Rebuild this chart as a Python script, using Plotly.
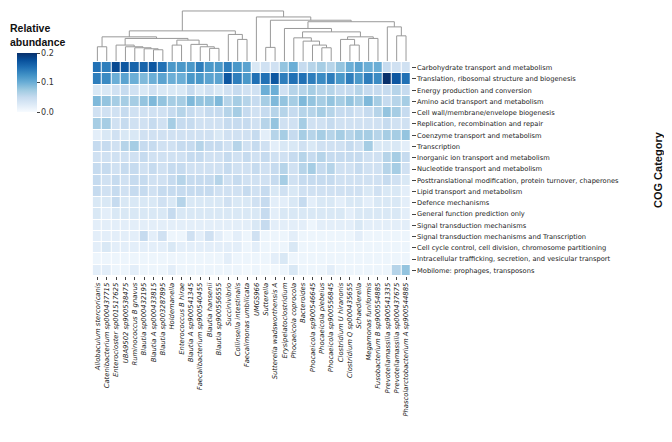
import plotly.graph_objects as go

# the page body has an 8px margin, so the figure is placed 8px in from the window corner
PAGE_MARGIN = 8
W, H = 656, 426

species = [
    "Allobaculum stercoricanis", "Catenibacterium sp000437715", "Enterocloster sp001517625",
    "UBA9502 sp900538475", "Ruminococcus B gnavus", "Blautia sp000432195",
    "Blautia A sp000433815", "Blautia sp003287895", "Holdemanella",
    "Enterococcus B hirae", "Blautia A sp900541345", "Faecalibacterium sp900540455",
    "Blautia hansenii", "Blautia sp900556555", "Succinivibrio",
    "Collinsella intestinalis", "Faecalimonas umbilicata", "UMGS966",
    "Sutterella", "Sutterella wadsworthensis A", "Erysipelatoclostridium",
    "Phocaeicola coprocola", "Bacteroides", "Phocaeicola sp900546645",
    "Phocaeicola plebeius", "Phocaeicola sp900556845", "Clostridium U hiranonis",
    "Clostridium Q sp000435655", "Schaedlerella", "Megamonas funiformis",
    "Fusobacterium B sp900554885", "Prevotellamassilia sp900541335",
    "Prevotellamassilia sp000437675", "Phascolarctobacterium A sp900544885",
]

categories = [
    "Carbohydrate transport and metabolism",
    "Translation, ribosomal structure and biogenesis",
    "Energy production and conversion",
    "Amino acid transport and metabolism",
    "Cell wall/membrane/envelope biogenesis",
    "Replication, recombination and repair",
    "Coenzyme transport and metabolism",
    "Transcription",
    "Inorganic ion transport and metabolism",
    "Nucleotide transport and metabolism",
    "Posttranslational modification, protein turnover, chaperones",
    "Lipid transport and metabolism",
    "Defence mechanisms",
    "General function prediction only",
    "Signal transduction mechanisms",
    "Signal transduction mechanisms and Transcription",
    "Cell cycle control, cell division, chromosome partitioning",
    "Intracellular trafficking, secretion, and vesicular transport",
    "Mobilome: prophages, transposons",
]

# relative abundance per COG category, one value per species (column order above)
carbohydrate = [0.15, 0.14, 0.18, 0.17, 0.16, 0.16, 0.17, 0.15, 0.12, 0.12, 0.12, 0.14, 0.12, 0.12, 0.14, 0.12, 0.11,
                0.03, 0.04, 0.04, 0.08, 0.10, 0.05, 0.06, 0.07, 0.06, 0.08, 0.10, 0.11, 0.10, 0.10, 0.05, 0.04, 0.04]
translation = [0.14, 0.13, 0.10, 0.11, 0.10, 0.09, 0.10, 0.11, 0.10, 0.10, 0.12, 0.12, 0.11, 0.11, 0.17, 0.14, 0.12,
               0.15, 0.15, 0.17, 0.14, 0.15, 0.15, 0.14, 0.13, 0.14, 0.12, 0.14, 0.12, 0.14, 0.13, 0.20, 0.17, 0.15]
energy = [0.03, 0.03, 0.04, 0.05, 0.04, 0.03, 0.04, 0.03, 0.03, 0.03, 0.05, 0.03, 0.04, 0.03, 0.04, 0.05, 0.04,
          0.04, 0.10, 0.10, 0.04, 0.06, 0.06, 0.07, 0.06, 0.06, 0.05, 0.05, 0.06, 0.05, 0.05, 0.05, 0.06, 0.05]
amino_acid = [0.09, 0.08, 0.07, 0.07, 0.07, 0.08, 0.09, 0.08, 0.07, 0.07, 0.09, 0.08, 0.08, 0.09, 0.06, 0.07, 0.06,
              0.05, 0.07, 0.09, 0.08, 0.07, 0.09, 0.08, 0.07, 0.08, 0.07, 0.08, 0.07, 0.09, 0.07, 0.05, 0.06, 0.07]
cell_wall = [0.04, 0.04, 0.04, 0.05, 0.04, 0.04, 0.04, 0.04, 0.05, 0.06, 0.05, 0.04, 0.05, 0.05, 0.06, 0.07, 0.05,
             0.04, 0.05, 0.06, 0.06, 0.05, 0.06, 0.06, 0.07, 0.06, 0.05, 0.05, 0.04, 0.05, 0.06, 0.08, 0.07, 0.05]
replication = [0.07, 0.07, 0.04, 0.05, 0.04, 0.04, 0.05, 0.04, 0.07, 0.05, 0.05, 0.04, 0.04, 0.04, 0.05, 0.05, 0.05,
               0.04, 0.06, 0.08, 0.04, 0.04, 0.07, 0.04, 0.04, 0.05, 0.04, 0.04, 0.04, 0.04, 0.04, 0.05, 0.04, 0.04]
coenzyme = [0.02, 0.03, 0.04, 0.03, 0.03, 0.04, 0.04, 0.04, 0.04, 0.04, 0.04, 0.04, 0.04, 0.03, 0.04, 0.04, 0.04,
            0.05, 0.02, 0.06, 0.07, 0.05, 0.07, 0.06, 0.07, 0.06, 0.07, 0.06, 0.07, 0.07, 0.06, 0.07, 0.07, 0.08]
transcription = [0.05, 0.05, 0.04, 0.06, 0.07, 0.05, 0.05, 0.04, 0.04, 0.05, 0.05, 0.06, 0.05, 0.05, 0.04, 0.06, 0.04,
                 0.05, 0.04, 0.02, 0.03, 0.03, 0.04, 0.03, 0.04, 0.04, 0.04, 0.05, 0.04, 0.07, 0.03, 0.03, 0.03, 0.02]
inorganic_ion = [0.04, 0.04, 0.04, 0.04, 0.04, 0.05, 0.04, 0.04, 0.04, 0.04, 0.05, 0.05, 0.04, 0.04, 0.05, 0.04, 0.05,
                 0.04, 0.05, 0.04, 0.04, 0.05, 0.06, 0.05, 0.06, 0.05, 0.05, 0.05, 0.05, 0.04, 0.04, 0.06, 0.07, 0.05]
nucleotide = [0.05, 0.05, 0.04, 0.05, 0.05, 0.04, 0.05, 0.04, 0.05, 0.05, 0.04, 0.04, 0.04, 0.04, 0.05, 0.04, 0.04,
              0.05, 0.04, 0.05, 0.06, 0.04, 0.06, 0.07, 0.05, 0.06, 0.04, 0.04, 0.05, 0.04, 0.04, 0.06, 0.07, 0.04]
posttranslational = [0.05, 0.04, 0.05, 0.04, 0.05, 0.05, 0.04, 0.04, 0.05, 0.06, 0.05, 0.05, 0.05, 0.06, 0.04, 0.05, 0.04,
                     0.04, 0.04, 0.05, 0.07, 0.04, 0.05, 0.05, 0.05, 0.05, 0.04, 0.04, 0.04, 0.04, 0.04, 0.05, 0.04, 0.03]
lipid = [0.05, 0.04, 0.05, 0.04, 0.05, 0.05, 0.04, 0.05, 0.05, 0.05, 0.05, 0.05, 0.05, 0.04, 0.04, 0.04, 0.05,
         0.04, 0.05, 0.03, 0.04, 0.03, 0.04, 0.04, 0.04, 0.04, 0.04, 0.04, 0.04, 0.03, 0.04, 0.03, 0.03, 0.02]
defence = [0.03, 0.03, 0.05, 0.03, 0.03, 0.03, 0.03, 0.04, 0.03, 0.06, 0.03, 0.03, 0.03, 0.03, 0.04, 0.03, 0.03,
           0.04, 0.05, 0.02, 0.02, 0.03, 0.05, 0.02, 0.03, 0.03, 0.02, 0.03, 0.03, 0.02, 0.03, 0.03, 0.03, 0.02]
general = [0.03, 0.02, 0.03, 0.03, 0.03, 0.03, 0.03, 0.03, 0.05, 0.03, 0.03, 0.03, 0.03, 0.03, 0.03, 0.03, 0.03,
           0.03, 0.05, 0.02, 0.03, 0.03, 0.03, 0.03, 0.03, 0.03, 0.03, 0.02, 0.03, 0.03, 0.03, 0.03, 0.03, 0.02]
signal = [0.02, 0.02, 0.02, 0.02, 0.02, 0.02, 0.02, 0.02, 0.02, 0.02, 0.02, 0.02, 0.02, 0.02, 0.02, 0.02, 0.02,
          0.03, 0.05, 0.02, 0.02, 0.02, 0.02, 0.01, 0.02, 0.02, 0.02, 0.02, 0.03, 0.02, 0.02, 0.02, 0.02, 0.02]
signal_transcription = [0.02, 0.02, 0.02, 0.02, 0.02, 0.05, 0.02, 0.04, 0.01, 0.01, 0.04, 0.02, 0.04, 0.02, 0.01, 0.02, 0.01,
                        0.04, 0.01, 0.01, 0.01, 0.02, 0.01, 0.01, 0.01, 0.01, 0.01, 0.01, 0.02, 0.01, 0.01, 0.01, 0.01, 0.01]
cell_cycle = [0.02, 0.03, 0.02, 0.02, 0.02, 0.02, 0.02, 0.02, 0.03, 0.02, 0.02, 0.02, 0.02, 0.02, 0.02, 0.02, 0.01,
              0.02, 0.01, 0.01, 0.01, 0.03, 0.01, 0.01, 0.01, 0.01, 0.01, 0.01, 0.01, 0.01, 0.01, 0.01, 0.01, 0.01]
intracellular = [0.01, 0.01, 0.01, 0.01, 0.01, 0.01, 0.01, 0.01, 0.01, 0.01, 0.01, 0.01, 0.01, 0.01, 0.02, 0.01, 0.01,
                 0.01, 0.01, 0.02, 0.03, 0.01, 0.01, 0.01, 0.01, 0.01, 0.01, 0.01, 0.01, 0.01, 0.01, 0.01, 0.01, 0.01]
mobilome = [0.02, 0.02, 0.01, 0.01, 0.02, 0.01, 0.01, 0.01, 0.02, 0.01, 0.01, 0.01, 0.01, 0.01, 0.01, 0.01, 0.005,
            0.01, 0.005, 0.005, 0.01, 0.03, 0.01, 0.01, 0.01, 0.02, 0.01, 0.01, 0.01, 0.01, 0.01, 0.01, 0.06, 0.08]

# column clustering: (left id, right id, height); leaves are 0..33, merges get 34, 35, ...
linkage = [
    (6, 7, 11.3), (5, 34, 12.3), (4, 35, 13.3), (3, 36, 14.3), (2, 37, 16.0),
    (0, 1, 14.3), (8, 9, 16.0), (12, 13, 12.7), (11, 41, 14.3), (10, 42, 16.7),
    (40, 43, 21.0), (38, 44, 22.7), (39, 45, 24.3), (15, 16, 21.7), (14, 47, 26.7),
    (46, 48, 30.3),
    (18, 19, 13.7), (24, 25, 13.3), (23, 51, 16.0), (22, 52, 20.0), (21, 53, 23.3),
    (27, 28, 16.0), (26, 55, 21.7), (29, 30, 22.7), (56, 57, 24.3), (54, 58, 29.3),
    (20, 59, 32.7), (32, 33, 25.3), (31, 61, 34.3), (60, 62, 39.5), (50, 63, 41.0),
    (17, 64, 44.3), (49, 65, 50.3),
]

z = [carbohydrate, translation, energy, amino_acid, cell_wall, replication, coenzyme,
     transcription, inorganic_ion, nucleotide, posttranslational, lipid, defence, general,
     signal, signal_transcription, cell_cycle, intracellular, mobilome]

blues = [[0.0, "#f7fbff"], [0.125, "#deebf7"], [0.25, "#c6dbef"], [0.375, "#9ecae1"],
         [0.5, "#6baed6"], [0.625, "#4292c6"], [0.75, "#2171b5"], [0.875, "#08519c"],
         [1.0, "#08306b"]]


def dendro_lines(links, n):
    pos = {i: (float(i), 0.0) for i in range(n)}
    xs, ys = [], []
    for k, (a, b, h) in enumerate(links):
        xa, ha = pos[a]
        xb, hb = pos[b]
        xs += [xa, xa, xb, xb, None]
        ys += [ha, h, h, hb, None]
        pos[n + k] = ((xa + xb) / 2, h)
    return xs, ys


# window pixel -> paper fraction
def px_x(p):
    return (p - PAGE_MARGIN) / W


def px_y(p):
    return 1 - (p - PAGE_MARGIN) / H


cols = list(range(len(species)))
dx, dy = dendro_lines(linkage, len(species))

fig = go.Figure()
fig.add_trace(go.Heatmap(
    z=z, x=cols, y=categories,
    zmin=0, zmax=0.2, colorscale=blues,
    xgap=1, ygap=1,
    colorbar=dict(
        x=px_x(17), xanchor="left", y=px_y(53), yanchor="top",
        thicknessmode="pixels", thickness=20, lenmode="pixels", len=59,
        xpad=0, ypad=0,
        outlinewidth=0, ticks="outside", ticklen=3, tickcolor="#444",
        tickvals=[0, 0.1, 0.2], ticktext=["0.0", "0.1", "0.2"],
        tickfont=dict(family="DejaVu Sans", size=8, color="#333"),
    ),
))
fig.add_trace(go.Scatter(
    x=dx, y=dy, mode="lines", yaxis="y2",
    line=dict(color="#999999", width=1), hoverinfo="skip", showlegend=False,
))

fig.update_layout(
    width=W, height=H,
    margin=dict(l=0, r=0, t=0, b=0),
    paper_bgcolor="white", plot_bgcolor="white",
    xaxis=dict(
        domain=[px_x(92.7), px_x(410.7)], range=[-0.5, len(species) - 0.5],
        tickvals=cols, ticktext=species, tickangle=-90,
        ticks="outside", ticklen=3, tickcolor="#444",
        tickfont=dict(family="DejaVu Sans", size=6.8, color="#222", style="italic"),
        showgrid=False, zeroline=False, showline=False,
    ),
    yaxis=dict(
        domain=[px_y(276), px_y(62)], autorange="reversed", side="right",
        ticks="outside", ticklen=4, tickcolor="#444",
        tickfont=dict(family="DejaVu Sans", size=6.7, color="#222"),
        showgrid=False, zeroline=False, showline=False,
    ),
    yaxis2=dict(
        domain=[px_y(61), px_y(8)], range=[0, 53.3], anchor="x",
        visible=False, showgrid=False, zeroline=False,
    ),
    annotations=[
        dict(text="<b>Relative<br>abundance</b>", x=0, y=px_y(20), xref="paper", yref="paper",
             xanchor="left", yanchor="top", align="left", showarrow=False,
             font=dict(family="Liberation Sans", size=10.5, color="#111")),
        dict(text="<b>COG Category</b>", x=px_x(658), y=px_y(170), xref="paper", yref="paper",
             xanchor="center", yanchor="middle", textangle=-90, showarrow=False,
             font=dict(family="Liberation Sans", size=11, color="#111")),
    ],
)

fig.write_html("out.html")
